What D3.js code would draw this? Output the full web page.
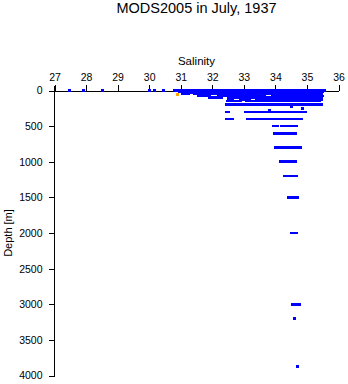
<!DOCTYPE html>
<html><head><meta charset="utf-8">
<script src="https://cdn.jsdelivr.net/npm/d3@7"></script>
<style>
html,body{margin:0;padding:0;background:#fff;}
svg{display:block;font-family:"Liberation Sans",Arial,Helvetica,sans-serif;}
</style></head>
<body>
<script>
const title = "MODS2005 in July, 1937";
const xLabel = "Salinity";
const yLabel = "Depth [m]";
const salinityTicks = [27,28,29,30,31,32,33,34,35,36];
const depthTicks = [0,500,1000,1500,2000,2500,3000,3500,4000];

// Observed depth levels (m)
const depths = [0,10,30,50,75,100,125,150,200,225,250,280,300,400,500,600,800,1000,1200,1500,2000,3000,3200,3870];

// Salinity observations at each level
const sal0 = [27.47,27.91,28.51,30.02,30.18,30.46,30.80,30.87,30.94,31.01,31.08,31.15,31.22,31.29,31.36,31.43,31.50,31.57,31.64,31.71,31.78,31.85,31.92,31.99,32.06,32.13,32.20,32.27,32.34,32.41,32.48,32.55,32.62,32.69,32.76,32.83,32.90,32.97,33.04,33.11,33.18,33.25,33.32,33.39,33.46,33.53,33.60,33.67,33.74,33.81,33.88,33.95,34.02,34.09,34.16,34.23,34.30,34.37,34.44,34.51,34.58,34.65,34.72,34.79,34.86,34.93,35.00,35.07,35.14,35.21,35.28,35.35,35.42,35.49,35.56];
const sal10 = [30.95,31.02,31.09,31.16,31.23,31.30,31.37,31.44,31.51,31.58,31.65,31.72,31.79,31.86,31.93,32.00,32.07,32.14,32.21,32.28,32.35,32.42,32.49,32.56,32.63,32.70,32.77,32.84,32.91,32.98,33.05,33.12,33.19,33.26,33.33,33.40,33.47,33.54,33.61,33.68,33.75,33.82,33.89,33.96,34.03,34.10,34.17,34.24,34.31,34.38,34.45,34.52,34.59,34.66,34.73,34.80,34.87,34.94,35.01,35.08,35.15,35.22,35.29,35.36,35.43,35.50];
const sal30 = [31.30,31.37,31.44,31.51,31.58,31.65,31.72,31.79,31.86,31.93,32.00,32.07,32.14,32.21,32.28,32.35,32.42,32.49,32.56,32.63,32.70,32.77,32.84,32.91,32.98,33.05,33.12,33.19,33.26,33.33,33.40,33.47,33.54,33.61,33.68,33.75,33.82,33.89,33.96,34.03,34.10,34.17,34.24,34.31,34.38,34.45,34.52,34.59,34.66,34.73,34.80,34.87,34.94,35.01,35.08,35.15,35.22,35.29,35.36,35.45];
const sal50 = [31.05,31.12,31.19,31.26,31.45,31.52,31.59,31.66,31.73,31.80,31.87,31.94,32.01,32.08,32.15,32.22,32.29,32.36,32.43,32.50,32.57,32.64,32.71,32.78,32.85,32.92,32.99,33.06,33.13,33.20,33.27,33.34,33.41,33.48,33.55,33.62,33.69,33.76,33.83,33.90,33.97,34.04,34.11,34.18,34.25,34.32,34.39,34.46,34.53,34.60,34.67,34.74,34.81,34.88,34.95,35.02,35.09,35.16,35.23,35.30,35.37,35.45];
const sal75 = [31.55,31.62,31.69,31.76,31.83,31.90,32.20,32.27,32.34,32.41,32.48,32.55,32.62,32.69,32.76,32.83,32.90,32.97,33.04,33.11,33.18,33.25,33.32,33.39,33.46,33.53,33.60,33.65,33.90,33.97,34.04,34.11,34.18,34.25,34.32,34.39,34.46,34.53,34.60,34.67,34.74,34.81,34.88,34.95,35.02,35.09,35.16,35.23,35.30,35.37,35.44,35.50];
const sal100 = [31.90,31.97,32.04,32.11,32.18,32.25,32.30,32.50,32.57,32.64,32.71,32.78,32.85,32.92,32.99,33.06,33.13,33.20,33.27,33.34,33.41,33.48,33.55,33.62,33.69,33.76,33.83,33.90,33.97,34.04,34.11,34.18,34.25,34.32,34.39,34.46,34.53,34.60,34.67,34.74,34.81,34.88,34.95,35.02,35.09,35.16,35.23,35.30,35.38,35.45];
const sal125 = [32.50,32.57,32.64,32.90,32.97,33.04,33.11,33.18,33.40,33.47,33.54,33.61,33.68,33.75,33.82,33.89,33.96,34.03,34.10,34.17,34.24,34.31,34.38,34.45,34.52,34.59,34.66,34.73,34.80,34.87,34.94,35.01,35.08,35.15,35.22,35.30,35.38,35.45];
const sal150 = [32.47,32.54,32.61,32.68,32.75,32.82,32.90,33.10,33.17,33.24,33.31,33.38,33.45,33.52,33.59,33.66,33.73,33.80,33.87,33.94,34.01,34.08,34.15,34.22,34.29,34.36,34.43,34.50,34.57,34.64,34.71,34.78,34.85,34.92,34.99,35.06,35.13,35.20,35.27,35.34,35.40];
const sal200 = [32.44,32.52,32.60,32.69,32.76,32.83,32.90,32.97,33.04,33.11,33.18,33.25,33.32,33.39,33.46,33.53,33.60,33.67,33.74,33.81,33.88,33.95,34.02,34.09,34.16,34.23,34.30,34.37,34.44,34.51,34.58,34.65,34.72,34.79,34.86,34.93,35.00,35.07,35.14,35.21,35.30,35.40,35.46];
const sal225 = [34.50];
const sal250 = [34.85];
const sal280 = [33.80];
const sal300 = [32.44,32.50,33.05,33.12,33.18,33.23,33.32,33.39,33.46,33.53,33.60,33.67,33.74,33.81,33.88,33.95,34.02,34.09,34.16,34.23,34.30,34.37,34.44,34.51,34.58,34.65,34.72,34.79,34.86,34.96];
const sal400 = [32.44,32.51,32.57,32.63,33.13,33.18,33.23,33.32,33.39,33.46,33.53,33.60,33.67,33.74,33.81,33.88,33.95,34.02,34.09,34.16,34.23,34.30,34.37,34.44,34.51,34.58,34.65,34.72,34.78,34.83];
const sal500 = [33.95,34.02,34.08,34.20,34.27,34.34,34.41,34.48,34.55,34.62,34.67];
const sal600 = [33.98,34.05,34.12,34.19,34.26,34.33,34.40,34.47,34.54,34.60,34.64];
const sal800 = [34.00,34.07,34.14,34.21,34.28,34.35,34.42,34.49,34.56,34.62,34.67,34.72,34.78];
const sal1000 = [34.17,34.24,34.31,34.38,34.45,34.52,34.59,34.64];
const sal1200 = [34.30,34.37,34.44,34.51,34.58,34.63,34.67];
const sal1500 = [34.42,34.49,34.56,34.63,34.70];
const sal2000 = [34.50,34.56,34.62,34.67];
const sal3000 = [34.55,34.62,34.69,34.74,34.77];
const sal3200 = [34.62];
const sal3870 = [34.71];
const salinityByDepth = [sal0,sal10,sal30,sal50,sal75,sal100,sal125,sal150,sal200,sal225,sal250,sal280,sal300,sal400,sal500,sal600,sal800,sal1000,sal1200,sal1500,sal2000,sal3000,sal3200,sal3870];

// Flagged observation (orange)
const flaggedDepth = [55];
const flaggedSal = [30.90];

const W = 348, H = 384;
const svg = d3.select("body").append("svg").attr("width", W).attr("height", H);

const x = d3.scaleLinear().domain([27, 36]).range([54.5, 338.5]);
const y = d3.scaleLinear().domain([0, 4000]).range([90.5, 375.5]);

svg.append("text").attr("x", 196.5).attr("y", 13).attr("text-anchor", "middle")
  .attr("font-size", 14.5).text(title);
svg.append("text").attr("x", 196.5).attr("y", 65).attr("text-anchor", "middle")
  .attr("font-size", 11.5).text(xLabel);
svg.append("text").attr("transform", "translate(12,233) rotate(-90)").attr("text-anchor", "middle")
  .attr("font-size", 11).text(yLabel);

const xAxis = svg.append("g").attr("transform", `translate(0,${y(0)})`)
  .call(d3.axisTop(x).tickValues(salinityTicks).tickFormat(d3.format("d")).tickSize(6).tickSizeOuter(0).tickPadding(4));
const yAxis = svg.append("g").attr("transform", `translate(${x(27)},0)`)
  .call(d3.axisLeft(y).tickValues(depthTicks).tickFormat(d3.format("d")).tickSize(6).tickSizeOuter(0).tickPadding(6));
[xAxis, yAxis].forEach(g => {
  g.selectAll("text").attr("font-size", 10.5).attr("fill", "#000")
   .attr("font-family", "'Liberation Sans',Arial,sans-serif");
  g.selectAll("line,path").attr("stroke", "#000").attr("shape-rendering", "crispEdges");
});
yAxis.select(".domain").attr("d", `M0,${y(0) - 5}V${y(4000)}`);

const pts = [];
depths.forEach((d, i) => salinityByDepth[i].forEach(s => pts.push({d, s})));

const mw = 3, mh = 2.6;
svg.append("g").selectAll("rect").data(pts).join("rect")
  .attr("x", p => x(p.s) - mw / 2).attr("y", p => y(p.d) - mh / 2)
  .attr("width", mw).attr("height", mh)
  .attr("fill", "#0000ff").attr("shape-rendering", "crispEdges");

svg.append("g").selectAll("rect").data(flaggedSal).join("rect")
  .attr("x", s => x(s) - mw / 2).attr("y", (s, i) => y(flaggedDepth[i]) - mh / 2)
  .attr("width", mw).attr("height", mh)
  .attr("fill", "#ffa500").attr("shape-rendering", "crispEdges");
</script>
</body></html>
